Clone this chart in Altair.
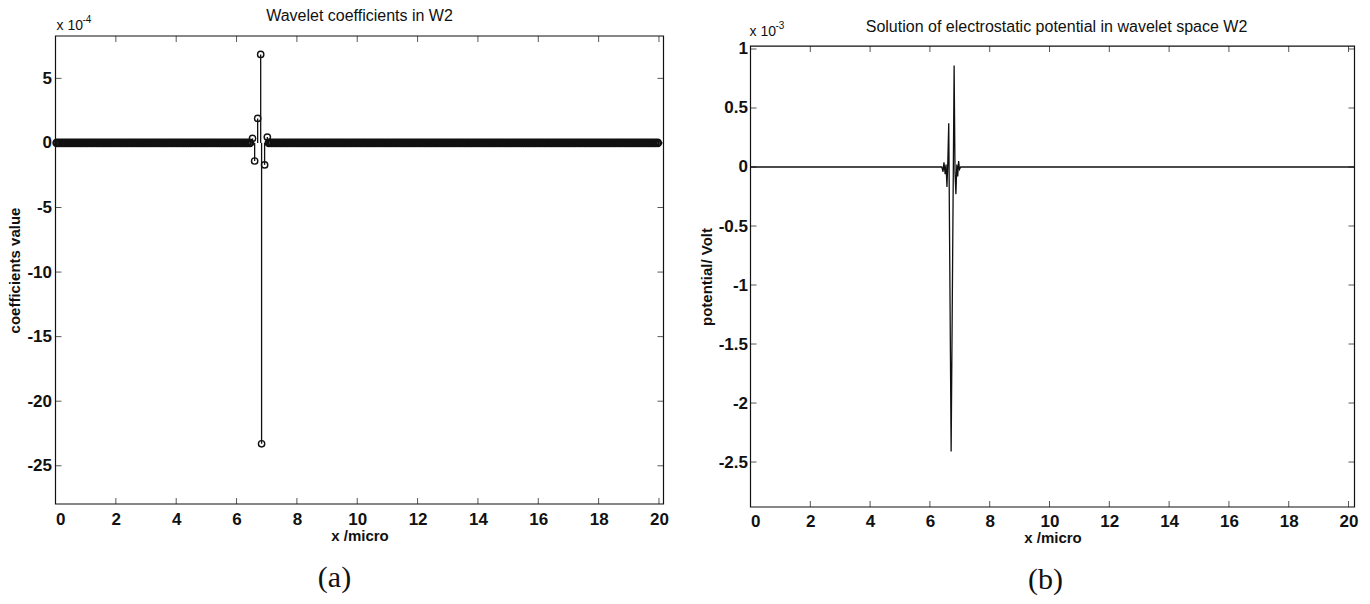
import altair as alt
import pandas as pd

INK = "#111111"
SANS = "Liberation Sans"
SERIF = "Liberation Serif"

# ---------------- data ----------------
x_ticks = [0, 2, 4, 6, 8, 10, 12, 14, 16, 18, 20]
a_y_ticks = [-25, -20, -15, -10, -5, 0, 5]
b_y_ticks = [-2.5, -2, -1.5, -1, -0.5, 0, 0.5, 1]

# panel (a): stem plot of wavelet coefficients (units of 1e-4)
n_coef = 256                       # number of coefficient positions on [0, 20]
coef_step = 20 / 256
nz_index = [83, 84, 85, 86, 87, 88, 89]          # positions holding non-zero coefficients
nz_x = [6.53, 6.60, 6.70, 6.80, 6.83, 6.93, 7.02]
nz_val = [0.35, -1.4, 1.9, 6.85, -23.3, -1.7, 0.45]

# panel (b): potential curve (units of 1e-3 V)
pot_x = [0.0, 6.40, 6.44, 6.47, 6.51, 6.54, 6.57, 6.60, 6.63, 6.71, 6.81,
         6.84, 6.87, 6.90, 6.93, 6.96, 6.99, 7.03, 20.2]
pot_y = [0.0, 0.0, -0.04, 0.04, -0.06, 0.02, -0.17, 0.05, 0.37, -2.41, 0.86,
         -0.05, -0.23, 0.02, -0.08, 0.05, -0.02, 0.0, 0.0]

# ---------------- tables ----------------
zero_rows = [{"x": (i + 0.5) * coef_step, "v": 0.0, "zero": 0.0}
             for i in range(n_coef) if i not in nz_index]
zero_df = pd.DataFrame(zero_rows)
nz_df = pd.DataFrame({"x": nz_x, "v": nz_val, "zero": [0.0] * len(nz_x)})
pot_df = pd.DataFrame({"x": pot_x, "y": pot_y})
xt_df = pd.DataFrame({"x": x_ticks})
ya_df = pd.DataFrame({"v": a_y_ticks})
yb_df = pd.DataFrame({"y": b_y_ticks})
one = pd.DataFrame({"k": [0]})


def txt(text, x, y, size=16, font=SANS, align="center"):
    return alt.Chart(one).mark_text(
        text=text, font=font, fontSize=size, color=INK, align=align,
        baseline="middle"
    ).encode(x=alt.value(x), y=alt.value(y))


def xaxis(pad):
    return alt.Axis(values=x_ticks, title="x /micro", labelPadding=pad, titlePadding=1,
                    labelExpr="'' + datum.value")


def yaxis(values, title, tx, ty, pad):
    return alt.Axis(values=values, title=title, labelPadding=pad, titleX=tx, titleY=ty,
                    titleBaseline="middle", titleAngle=270,
                    labelExpr="'' + datum.value")


def xticks(scale, axis, ypix):
    return alt.Chart(xt_df).mark_tick(color=INK, size=6, thickness=1).encode(
        x=alt.X("x:Q", scale=scale, axis=axis), y=alt.value(ypix))


def yticks(df, field, scale, axis, xpix):
    return alt.Chart(df).mark_tick(color=INK, size=6, thickness=1).encode(
        y=alt.Y(field + ":Q", scale=scale, axis=axis), x=alt.value(xpix))


# ---------------- panel (a) ----------------
W_A, H_A = 608, 468
XA = [0, 20.15]
YA = [-27.96, 8.28]
sxa = alt.Scale(domain=XA, nice=False, zero=False)
sya = alt.Scale(domain=YA, nice=False, zero=False)
XA_AXIS = xaxis(7.5)
YA_AXIS = yaxis(a_y_ticks, "coefficients value", -41, H_A / 2, 4)

frame_a_df = pd.DataFrame({"x": [XA[0]], "x2": [XA[1]], "v": [YA[0]], "v2": [YA[1]]})
frame_a = alt.Chart(frame_a_df).mark_rect(fillOpacity=0, stroke=INK, strokeWidth=1.2).encode(
    x=alt.X("x:Q", scale=sxa, axis=XA_AXIS), x2="x2:Q",
    y=alt.Y("v:Q", scale=sya, axis=YA_AXIS), y2="v2:Q")

stems = alt.Chart(nz_df).mark_rule(color=INK, strokeWidth=1.3).encode(
    x=alt.X("x:Q", scale=sxa, axis=XA_AXIS),
    y=alt.Y("v:Q", scale=sya, axis=YA_AXIS),
    y2="zero:Q")

band = alt.Chart(zero_df).mark_point(shape="circle", filled=False, size=40,
                                     strokeWidth=2.4, color=INK, opacity=1).encode(
    x=alt.X("x:Q", scale=sxa, axis=XA_AXIS), y=alt.Y("v:Q", scale=sya, axis=YA_AXIS))

circles = alt.Chart(nz_df).mark_point(shape="circle", filled=False, size=40,
                                      strokeWidth=1.4, color=INK, opacity=1).encode(
    x=alt.X("x:Q", scale=sxa, axis=XA_AXIS), y=alt.Y("v:Q", scale=sya, axis=YA_AXIS))

left = alt.layer(
    frame_a, band, stems, circles,
    xticks(sxa, XA_AXIS, H_A - 3), xticks(sxa, XA_AXIS, 3),
    yticks(ya_df, "v", sya, YA_AXIS, 3), yticks(ya_df, "v", sya, YA_AXIS, W_A - 3),
    txt("Wavelet coefficients in W2", W_A / 2, -20),
    txt("x 10", 1, -10, size=14, align="left"),
    txt("-4", 27, -16, size=10, align="left"),
    txt("(a)", 279, 542, size=30, font=SERIF),
).properties(width=W_A, height=H_A)

# ---------------- panel (b) ----------------
W_B, H_B = 604, 471
XB = [0, 20.2]
YB = [-2.881, 1.110]      # plot area; the framed box stops at 1.025
YB_TOP = 1.025
TOP_B = 10                # pixel position of the framed box top
sxb = alt.Scale(domain=XB, nice=False, zero=False)
syb = alt.Scale(domain=YB, nice=False, zero=False)
XB_AXIS = xaxis(6.5)
YB_AXIS = yaxis(b_y_ticks, "potential/ Volt", -44, (TOP_B + H_B) / 2, 3)

frame_b_df = pd.DataFrame({"x": [XB[0]], "x2": [XB[1]], "y": [YB[0]], "y2": [YB_TOP]})
frame_b = alt.Chart(frame_b_df).mark_rect(fillOpacity=0, stroke=INK, strokeWidth=1.2).encode(
    x=alt.X("x:Q", scale=sxb, axis=XB_AXIS), x2="x2:Q",
    y=alt.Y("y:Q", scale=syb, axis=YB_AXIS), y2="y2:Q")

pot_line = alt.Chart(pot_df).mark_line(color=INK, strokeWidth=1.3).encode(
    x=alt.X("x:Q", scale=sxb, axis=XB_AXIS),
    y=alt.Y("y:Q", scale=syb, axis=YB_AXIS))

right = alt.layer(
    frame_b, pot_line,
    xticks(sxb, XB_AXIS, H_B - 3), xticks(sxb, XB_AXIS, TOP_B + 3),
    yticks(yb_df, "y", syb, YB_AXIS, 3), yticks(yb_df, "y", syb, YB_AXIS, W_B - 3),
    txt("Solution of electrostatic potential in wavelet space W2", W_B / 2 + 4, -9),
    txt("x 10", -1, -4, size=14, align="left"),
    txt("-3", 25, -10, size=10, align="left"),
    txt("(b)", 295, 544, size=30, font=SERIF),
).properties(width=W_B, height=H_B)

chart = alt.hconcat(left, right, spacing=31).properties(
    padding={"left": 7.5, "top": 8, "right": 5, "bottom": 5},
    background="white",
).configure_view(stroke=None).configure_axis(
    grid=False, domain=False, ticks=False, tickSize=0,
    labelFont=SANS, titleFont=SANS, labelFontSize=17, titleFontSize=15,
    labelFontWeight="bold", titleFontWeight="bold",
    labelColor=INK, titleColor=INK,
).configure_text(font=SANS)

chart.save("out.html", embed_options={"renderer": "svg", "actions": False})
